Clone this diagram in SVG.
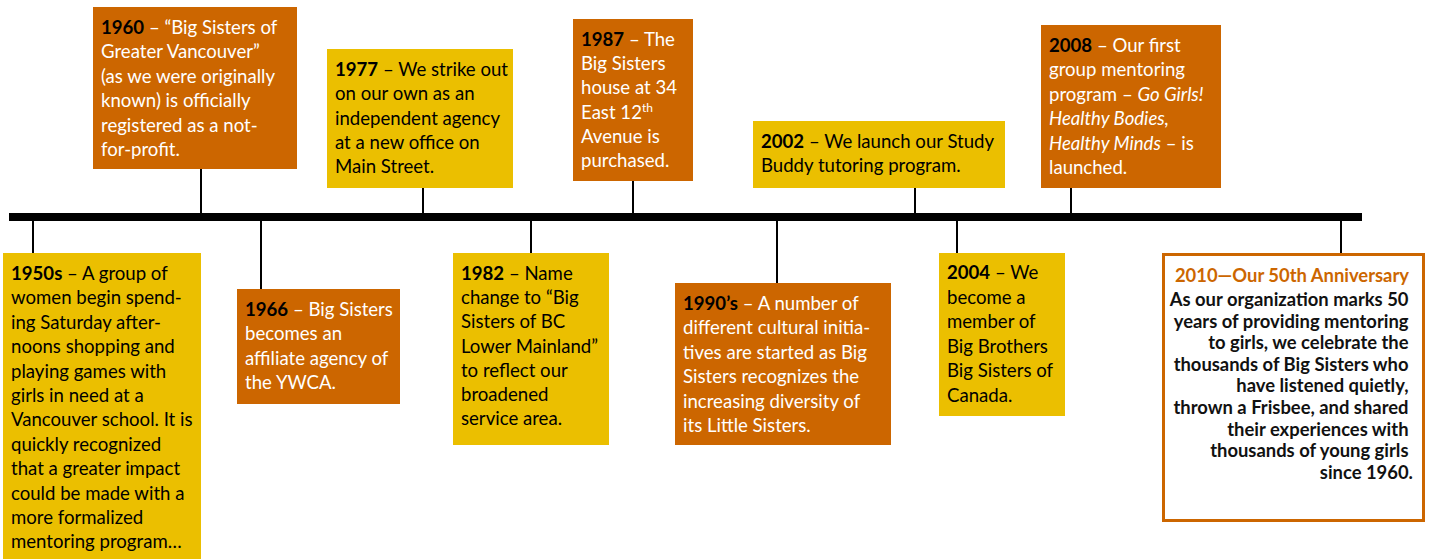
<svg xmlns="http://www.w3.org/2000/svg" width="1430" height="559" viewBox="0 0 1430 559">
<style>
.y{fill:#EBBF00}
.o{fill:#CC6600}
.t{font-family:Lato,"Liberation Sans",sans-serif;font-size:18.6px}
.tb{fill:#000}
.tw{fill:#fff}
.b{font-weight:bold;fill:#000}
.i{font-style:italic}
.c{stroke:#000;stroke-width:2;fill:none}
.ann{font-family:Lato,"Liberation Sans",sans-serif;font-size:18.4px;font-weight:bold;fill:#111;text-anchor:end}
</style>
<rect width="1430" height="559" fill="#fff"/>
<g id="connectors">
<rect x="9" y="213" width="1353" height="8" fill="#000"/>
<line class="c" x1="33" y1="221" x2="33" y2="253"/>
<line class="c" x1="201" y1="169" x2="201" y2="213"/>
<line class="c" x1="261" y1="221" x2="261" y2="289"/>
<line class="c" x1="423" y1="188" x2="423" y2="213"/>
<line class="c" x1="531" y1="221" x2="531" y2="253"/>
<line class="c" x1="633" y1="181" x2="633" y2="213"/>
<line class="c" x1="777" y1="221" x2="777" y2="283"/>
<line class="c" x1="915" y1="188" x2="915" y2="213"/>
<line class="c" x1="957" y1="221" x2="957" y2="253"/>
<line class="c" x1="1071" y1="188" x2="1071" y2="213"/>
<line class="c" x1="1341" y1="221" x2="1341" y2="253"/>
</g>
<g id="n1950s">
<rect class="y" x="3" y="253" width="198" height="306"/>
<text class="t tb">
<tspan x="11" y="280"><tspan class="b">1950s</tspan> – A group of</tspan>
<tspan x="11" y="304.4">women begin spend-</tspan>
<tspan x="11" y="328.8">ing Saturday after-</tspan>
<tspan x="11" y="353.2">noons shopping and</tspan>
<tspan x="11" y="377.6">playing games with</tspan>
<tspan x="11" y="402">girls in need at a</tspan>
<tspan x="11" y="426.4">Vancouver school. It is</tspan>
<tspan x="11" y="450.8">quickly recognized</tspan>
<tspan x="11" y="475.2">that a greater impact</tspan>
<tspan x="11" y="499.6">could be made with a</tspan>
<tspan x="11" y="524">more formalized</tspan>
<tspan x="11" y="548.4">mentoring program…</tspan>
</text>
</g>
<g id="n1960">
<rect class="o" x="93" y="7" width="204" height="162"/>
<text class="t tw">
<tspan x="101" y="34"><tspan class="b">1960</tspan> – “Big Sisters of</tspan>
<tspan x="101" y="58.4">Greater Vancouver”</tspan>
<tspan x="101" y="82.8">(as we were originally</tspan>
<tspan x="101" y="107.2">known) is officially</tspan>
<tspan x="101" y="131.6">registered as a not-</tspan>
<tspan x="101" y="156">for-profit.</tspan>
</text>
</g>
<g id="n1966">
<rect class="o" x="237" y="289" width="163" height="115"/>
<text class="t tw">
<tspan x="245" y="316"><tspan class="b">1966</tspan> – Big Sisters</tspan>
<tspan x="245" y="340.4">becomes an</tspan>
<tspan x="245" y="364.8">affiliate agency of</tspan>
<tspan x="245" y="389.2">the YWCA.</tspan>
</text>
</g>
<g id="n1977">
<rect class="y" x="327" y="49" width="186" height="139"/>
<text class="t tb">
<tspan x="335" y="76"><tspan class="b">1977</tspan> – We strike out</tspan>
<tspan x="335" y="100.3">on our own as an</tspan>
<tspan x="335" y="124.6">independent agency</tspan>
<tspan x="335" y="148.9">at a new office on</tspan>
<tspan x="335" y="173.2">Main Street.</tspan>
</text>
</g>
<g id="n1982">
<rect class="y" x="453" y="253" width="156" height="192"/>
<text class="t tb">
<tspan x="461" y="280"><tspan class="b">1982</tspan> – Name</tspan>
<tspan x="461" y="304.2">change to “Big</tspan>
<tspan x="461" y="328.4">Sisters of BC</tspan>
<tspan x="461" y="352.6">Lower Mainland”</tspan>
<tspan x="461" y="376.8">to reflect our</tspan>
<tspan x="461" y="401">broadened</tspan>
<tspan x="461" y="425.2">service area.</tspan>
</text>
</g>
<g id="n1987">
<rect class="o" x="573" y="19" width="120" height="162"/>
<text class="t tw">
<tspan x="581" y="46"><tspan class="b">1987</tspan> – The</tspan>
<tspan x="581" y="70.2">Big Sisters</tspan>
<tspan x="581" y="94.4">house at 34</tspan>
<tspan x="581" y="118.6">East 12<tspan dy="-7" font-size="12px">th</tspan></tspan>
<tspan x="581" y="142.8">Avenue is</tspan>
<tspan x="581" y="167">purchased.</tspan>
</text>
</g>
<g id="n1990s">
<rect class="o" x="675" y="283" width="216" height="162"/>
<text class="t tw">
<tspan x="683" y="310"><tspan class="b">1990’s</tspan> – A number of</tspan>
<tspan x="683" y="334.4">different cultural initia-</tspan>
<tspan x="683" y="358.8">tives are started as Big</tspan>
<tspan x="683" y="383.2">Sisters recognizes the</tspan>
<tspan x="683" y="407.6">increasing diversity of</tspan>
<tspan x="683" y="432">its Little Sisters.</tspan>
</text>
</g>
<g id="n2002">
<rect class="y" x="753" y="121" width="252" height="67"/>
<text class="t tb">
<tspan x="761" y="148"><tspan class="b">2002</tspan> – We launch our Study</tspan>
<tspan x="761" y="172.2">Buddy tutoring program.</tspan>
</text>
</g>
<g id="n2004">
<rect class="y" x="939" y="253" width="126" height="163"/>
<text class="t tb">
<tspan x="947" y="279"><tspan class="b">2004</tspan> – We</tspan>
<tspan x="947" y="303.6">become a</tspan>
<tspan x="947" y="328.2">member of</tspan>
<tspan x="947" y="352.8">Big Brothers</tspan>
<tspan x="947" y="377.4">Big Sisters of</tspan>
<tspan x="947" y="402">Canada.</tspan>
</text>
</g>
<g id="n2008">
<rect class="o" x="1041" y="25" width="180" height="163"/>
<text class="t tw">
<tspan x="1049" y="52"><tspan class="b">2008</tspan> – Our first</tspan>
<tspan x="1049" y="76.4">group mentoring</tspan>
<tspan x="1049" y="100.8">program – <tspan class="i">Go Girls!</tspan></tspan>
<tspan x="1049" y="125.2" class="i">Healthy Bodies,</tspan>
<tspan x="1049" y="149.6"><tspan class="i">Healthy Minds</tspan> – is</tspan>
<tspan x="1049" y="174">launched.</tspan>
</text>
</g>
<g id="n2010">
<rect x="1163.5" y="254.5" width="260" height="266" fill="#fff" stroke="#CC6600" stroke-width="3"/>
<text class="ann">
<tspan x="1413" y="282" fill="#CC6600">2010—Our 50th Anniversary</tspan>
<tspan x="1413" y="306">As our organization marks 50</tspan>
<tspan x="1413" y="327.6">years of providing mentoring</tspan>
<tspan x="1413" y="349.2">to girls, we celebrate the</tspan>
<tspan x="1413" y="370.8">thousands of Big Sisters who</tspan>
<tspan x="1413" y="392.4">have listened quietly,</tspan>
<tspan x="1413" y="414">thrown a Frisbee, and shared</tspan>
<tspan x="1413" y="435.6">their experiences with</tspan>
<tspan x="1413" y="457.2">thousands of young girls</tspan>
<tspan x="1413" y="478.8">since 1960.</tspan>
</text>
</g>
</svg>
